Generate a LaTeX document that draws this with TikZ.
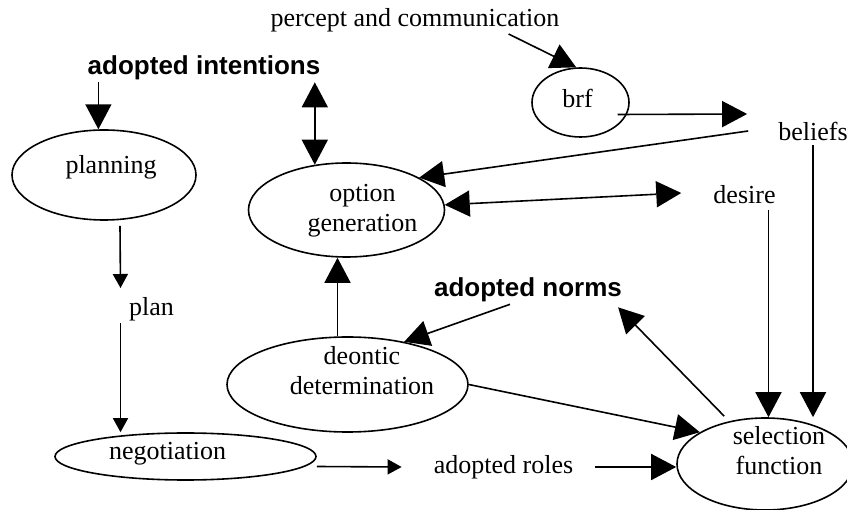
\documentclass[tikz,border=0pt]{standalone}
\usepackage{fontspec}
\setmainfont{Liberation Serif}
\setsansfont{Liberation Sans}
\usepackage{tikz}
\usetikzlibrary{calc}
\usetikzlibrary{arrows.meta}
\usetikzlibrary{shapes.geometric}

\tikzset{
    ell/.style        = {draw, ellipse, line width=1.6pt, inner sep=0pt},
    txt/.style        = {inner sep=2pt, font=\fontsize{26}{30}\selectfont},
    boldtxt/.style    = {inner sep=2pt, font=\fontsize{26}{30}\selectfont\sffamily\bfseries},
    inlabel/.style    = {txt, align=center},
    bigarrow/.style   = {line width=1.6pt, -{Triangle[length=25pt,width=26pt]}},
    bigboth/.style    = {line width=1.6pt, {Triangle[length=25pt,width=26pt]}-{Triangle[length=25pt,width=26pt]}},
    smallarrow/.style = {line width=1.6pt, -{Triangle[length=14pt,width=15pt]}},
}

\begin{document}
\begin{tikzpicture}[x=1pt, y=-1pt]
            \useasboundingbox (0,0) rectangle (847,510);

            \node[txt]     (percept) at (415, 20)  {percept and communication};
            \node[boldtxt] (adint)   at (204, 68)  {adopted intentions};
            \node[txt]     (beliefs) at (813, 131) {beliefs};
            \node[txt]     (desire)  at (744.5, 195) {desire};
            \node[txt]     (plan)    at (151.5, 309) {plan};
            \node[boldtxt] (adnorms) at (528, 290) {adopted norms};
            \node[txt]     (adroles) at (503.5, 467) {adopted roles};

            \node[ell, minimum width=184pt, minimum height=90pt,
                  label={[inlabel, shift={(7,-8)}]center:planning}]              (planning)    at (104, 175)   {};
            \node[ell, minimum width=196pt, minimum height=94pt,
                  label={[inlabel, shift={(16,1)}]center:option\\generation}]   (optgen)      at (346.5, 210) {};
            \node[ell, minimum width=97pt,  minimum height=69pt,
                  label={[inlabel, shift={(-3,-4)}]center:brf}]                 (brf)         at (580.5, 102.5) {};
            \node[ell, minimum width=241pt, minimum height=95pt,
                  label={[inlabel, shift={(14.5,-13.5)}]center:deontic\\determination}] (deontic) at (347.5, 384.5) {};
            \node[ell, minimum width=261pt, minimum height=47pt,
                  label={[inlabel, shift={(-18,-3)}]center:negotiation}]        (negotiation) at (185.5, 456.5) {};
            \node[ell, minimum width=176pt, minimum height=92pt,
                  label={[inlabel, shift={(14,-13)}]center:selection\\function}] (selfun)     at (765, 464)   {};

            \coordinate (plantop)     at ([shift={(-31,-7)}]plan.north);
            \coordinate (planbot)     at ([xshift=-31pt]plan.south);
            \coordinate (deontop)     at ([xshift=-10pt]deontic.north);
            \coordinate (desireout)   at ([shift={(24,4)}]desire.south);
            \coordinate (beliefsout)  at ([yshift=-3pt]beliefs.south);

            \draw[bigarrow]   (adint.south -| planning.97) -- (planning.97);
            \draw[bigboth]    (adint.south -| optgen.125)  -- (optgen.125);
            \draw[bigarrow]   ([xshift=-53pt]percept.south east) -- (brf.97);
            \draw[bigarrow]   ([shift={(37,12)}]brf.center) -- ([shift={(-29,-17)}]beliefs.west);
            \draw[bigarrow]   ([xshift=-28pt]beliefs.west) -- (optgen.24);
            \draw[bigboth]    (optgen.3) -- ([shift={(-30,-2)}]desire.west);
            \draw[smallarrow] ([shift={(16,5)}]planning.south) -- (plantop);
            \draw[smallarrow] (planbot) -- (planbot |- negotiation.north);
            \draw[smallarrow] ([shift={(0,10)}]negotiation.east) -- ([xshift=-30pt]adroles.west);
            \draw[bigarrow]   ([xshift=20pt]adroles.east) -- (adroles.east -| selfun.west);
            \draw[bigarrow]   (deontop) -- (deontop |- optgen.south);
            \draw[bigarrow]   ([xshift=-18pt]adnorms.south) -- (deontic.37);
            \draw[bigarrow]   (deontic.east) -- (selfun.154);
            \draw[bigarrow, shorten <=7pt] (selfun.130) -- ([shift={(-6,3)}]adnorms.south east);
            \draw[bigarrow]   (desireout) -- (desireout |- selfun.north);
            \draw[bigarrow]   (beliefsout) -- (beliefsout |- selfun.north);
        \end{tikzpicture}
\end{document}
